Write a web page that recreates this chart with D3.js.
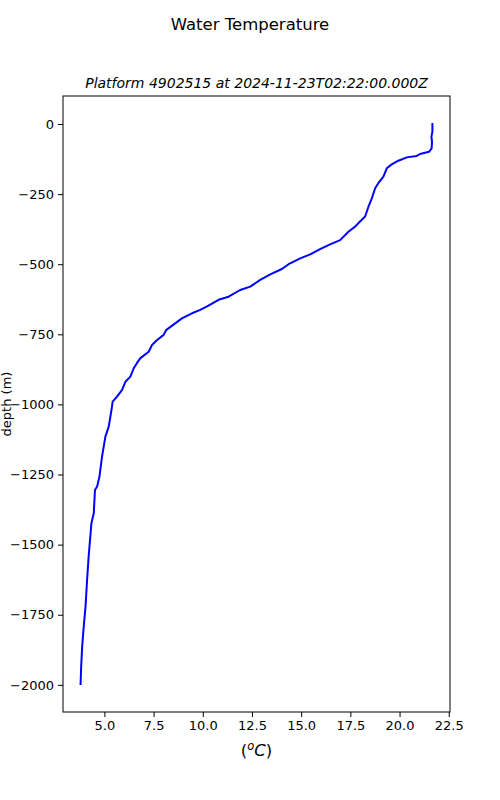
<!DOCTYPE html>
<html><head><meta charset="utf-8">
<script src="https://cdn.jsdelivr.net/npm/d3@7"></script>
<style>body{margin:0;background:#fff}svg{display:block}text{font-family:"DejaVu Sans",sans-serif}</style>
</head><body>
<svg id="chart" width="500" height="800"></svg>
<script>
const title = "Water Temperature";
const subtitle = "Platform 4902515 at 2024-11-23T02:22:00.000Z";
const depth = [0,-27,-45,-63,-87,-99,-107,-114,-119,-131,-144,-158,-188,-211,-229,-265,-295,-330,-348,-366,-384,-414,-429,-446,-465,-479,-500,-517,-536,-556,-580,-592,-616,-627,-648,-663,-675,-693,-719,-734,-752,-770,-788,-812,-835,-853,-871,-901,-919,-948,-972,-990,-1020,-1079,-1115,-1186,-1257,-1293,-1305,-1388,-1424,-1542,-1626,-1721,-1792,-1863,-1934,-1997];
const temperature = [21.67,21.67,21.62,21.65,21.63,21.50,21.04,20.87,20.37,19.94,19.60,19.35,19.18,18.92,18.76,18.59,18.42,18.25,17.99,17.74,17.40,16.98,16.47,15.96,15.46,14.95,14.36,14.02,13.43,12.92,12.41,11.90,11.31,10.80,10.29,9.87,9.45,8.94,8.44,8.15,8.01,7.68,7.42,7.25,6.83,6.65,6.49,6.32,6.07,5.90,5.64,5.42,5.36,5.22,5.05,4.88,4.75,4.63,4.52,4.46,4.34,4.20,4.12,4.04,3.95,3.87,3.82,3.79];
const xTicks = [5.0,7.5,10.0,12.5,15.0,17.5,20.0,22.5];
const yTicks = [0,-250,-500,-750,-1000,-1250,-1500,-1750,-2000];
const xLabel = "C";
const yLabel = "depth (m)";

const svg = d3.select("#chart");
const L=63,R=450,T=96,B=712;
const xmin=d3.min(temperature), xmax=d3.max(temperature);
const xm=(xmax-xmin)*0.05;
const ymin=d3.min(depth), ymax=0;
const ym=(ymax-ymin)*0.05;
const x=d3.scaleLinear().domain([xmin-xm,xmax+xm]).range([L,R]);
const y=d3.scaleLinear().domain([ymin-ym,ymax+ym]).range([B,T]);
const fmtY=d=>d<0?"\u2212"+Math.abs(d):String(d);

const gx=svg.append("g").attr("transform",`translate(0,${B})`)
  .call(d3.axisBottom(x).tickValues(xTicks).tickFormat(d3.format(".1f")).tickSizeOuter(0).tickSize(5).tickPadding(4));
const gy=svg.append("g").attr("transform",`translate(${L},0)`)
  .call(d3.axisLeft(y).tickValues(yTicks).tickFormat(fmtY).tickSizeOuter(0).tickSize(5).tickPadding(4));
[gx,gy].forEach(g=>{g.select(".domain").remove();g.selectAll("text").attr("font-size",13).attr("fill","#000").attr("font-family","DejaVu Sans");g.selectAll("line").attr("stroke","#000").attr("stroke-width",1);});

const line=d3.line().x((d,i)=>x(temperature[i])).y(d=>y(d));
svg.append("path").datum(depth).attr("d",line).attr("fill","none").attr("stroke","#0000ff").attr("stroke-width",2).attr("stroke-linejoin","round").attr("stroke-linecap","square");

svg.append("rect").attr("x",L).attr("y",T).attr("width",R-L).attr("height",B-T).attr("fill","none").attr("stroke","#000").attr("stroke-width",1);

svg.append("text").attr("x",250).attr("y",30).attr("text-anchor","middle").attr("font-size",16.5).text(title);
svg.append("text").attr("x",(L+R)/2).attr("y",88).attr("text-anchor","middle").attr("font-size",14).attr("font-style","italic").text(subtitle);
const xl=svg.append("text").attr("x",(L+R)/2).attr("y",756).attr("text-anchor","middle").attr("font-size",16.5);
xl.append("tspan").text("(");
xl.append("tspan").attr("font-style","italic").attr("font-size",11.5).attr("dy",-6).text("o");
xl.append("tspan").attr("font-style","italic").attr("dy",6).text(xLabel);
xl.append("tspan").text(")");
svg.append("text").attr("transform",`translate(11,${(T+B)/2}) rotate(-90)`).attr("text-anchor","middle").attr("font-size",13).text(yLabel);
</script>
</body></html>
